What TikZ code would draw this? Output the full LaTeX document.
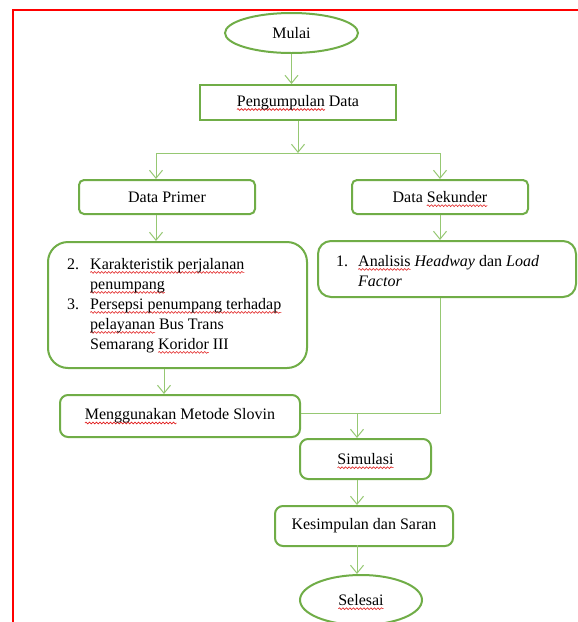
\documentclass[tikz,border=0pt]{standalone}
\usepackage{fontspec}
\setmainfont{Liberation Serif}
\usetikzlibrary{arrows.meta,shapes.geometric,decorations.pathmorphing}
\definecolor{boxgreen}{RGB}{112,173,71}
\definecolor{linegreen}{RGB}{150,200,115}
\definecolor{sqred}{RGB}{225,30,30}
\definecolor{framered}{RGB}{255,0,0}
\newsavebox\sqbox
\tikzset{
  base/.style={draw=boxgreen, line width=2pt, font=\fontsize{16}{20}\selectfont, inner sep=0pt, text=black},
  txt/.style={font=\fontsize{16}{20}\selectfont, inner sep=0pt, text=black},
  conn/.style={draw=linegreen, line width=1pt},
  arr/.style={conn, -{Straight Barb[length=8pt,width=13pt,line width=1pt]}},
  sqline/.style={draw=sqred, line width=0.6pt, sharp corners, solid, decorate,
    decoration={snake, amplitude=0.9pt, segment length=3.5pt}}
}
\newcommand\sq[1]{\sbox\sqbox{#1}\tikz[overlay,x=1pt,y=1pt,baseline=0pt]\draw[sqline] (0,-3.2) -- (\the\wd\sqbox,-3.2);\usebox\sqbox}
\begin{document}
\begin{tikzpicture}[x=1pt,y=-1pt]
\useasboundingbox (0,0) rectangle (578,622);
\clip (0,0) rectangle (578,622);
\fill[white] (0,0) rectangle (578,622);
% frame
\draw[framered, line width=2pt] (13,10) rectangle (620,660);
% nodes
\node[base, ellipse, minimum width=133pt, minimum height=40pt] (mulai) at (291.5,33) {Mulai};
\node[base, minimum width=196pt, minimum height=35pt] (peng) at (298,102.5) {\sq{Pengumpulan} Data};
\node[base, rounded corners=5pt, minimum width=176pt, minimum height=34pt] (prim) at (167,197) {Data Primer};
\node[base, rounded corners=5pt, minimum width=176pt, minimum height=34pt] (sek) at (440,197) {Data \sq{Sekunder}};
\node[base, rounded corners=20pt, minimum width=259pt, minimum height=126pt] (big) at (177.5,305) {};
\node[base, rounded corners=13pt, minimum width=258pt, minimum height=56pt] (ana) at (447,269) {};
\node[base, rounded corners=8pt, minimum width=240pt, minimum height=42pt] (meng) at (180,416) {\sq{Menggunakan} Metode Slovin};
\node[base, rounded corners=8pt, minimum width=131pt, minimum height=40pt] (sim) at (365.5,459) {\sq{Simulasi}};
\node[base, rounded corners=8pt, minimum width=178pt, minimum height=40pt] (kes) at (364,526) {Kesimpulan dan Saran};
\node[base, ellipse, minimum width=122pt, minimum height=50pt] (sel) at (361,600) {\sq{Selesai}};
% texts inside the large boxes
\node[txt, anchor=north west] (bigtxt) at (67,255) {\begin{tabular}{@{}p{23pt}@{}l@{}}
2. & \sq{Karakteristik perjalanan}\\
   & \sq{penumpang}\\
3. & \sq{Persepsi penumpang terhadap}\\
   & \sq{pelayanan} Bus Trans\\
   & Semarang \sq{Koridor} III
\end{tabular}};
\node[txt, anchor=north west] (anatxt) at (336,252) {\begin{tabular}{@{}p{22pt}@{}l@{}}
1. & \sq{Analisis} \textit{Headway} dan \textit{Load}\\
   & \textit{Factor}
\end{tabular}};
% connectors
\coordinate (bl) at (156,153);
\coordinate (br) at (440,153);
\coordinate (bm) at (164,0);
\coordinate (j) at (440,413);
\coordinate (m) at (357,413);
\draw[arr] (mulai.south) -- (mulai.south |- peng.north);
\draw[arr] (peng.south) -- (peng.south |- bl);
\draw[conn] (bl) -- (br);
\draw[arr] (bl) -- (bl |- prim.north);
\draw[arr] (br) -- (br |- sek.north);
\draw[arr] (bl |- prim.south) -- (bl |- big.north);
\draw[arr] (sek.south) -- (sek.south |- ana.north);
\draw[arr] (bm |- big.south) -- (bm |- meng.north);
\draw[conn] (j |- ana.south) -- (j) -- (j -| meng.east);
\draw[arr] (m) -- (m |- sim.north);
\draw[arr] (m |- sim.south) -- (m |- kes.north);
\draw[arr] ([yshift=2pt]m |- kes.south) -- (m |- sel.north);
\end{tikzpicture}
\end{document}
